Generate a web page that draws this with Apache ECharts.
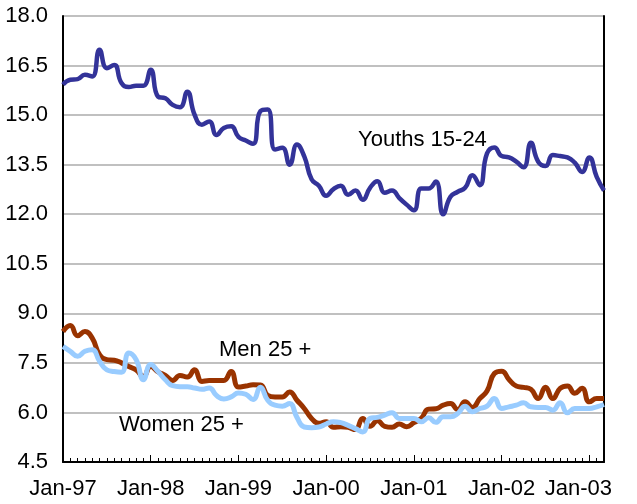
<!DOCTYPE html>
<html>
<head>
<meta charset="utf-8">
<script src="https://cdn.jsdelivr.net/npm/echarts@6/dist/echarts.min.js"></script>
<style>
html,body{margin:0;padding:0;background:#fff;}
#chart{width:637px;height:504px;}
</style>
</head>
<body>
<div id="chart"></div>
<script>
var categories = [
 'Jan-97','Feb-97','Mar-97','Apr-97','May-97','Jun-97','Jul-97','Aug-97','Sep-97','Oct-97','Nov-97','Dec-97',
 'Jan-98','Feb-98','Mar-98','Apr-98','May-98','Jun-98','Jul-98','Aug-98','Sep-98','Oct-98','Nov-98','Dec-98',
 'Jan-99','Feb-99','Mar-99','Apr-99','May-99','Jun-99','Jul-99','Aug-99','Sep-99','Oct-99','Nov-99','Dec-99',
 'Jan-00','Feb-00','Mar-00','Apr-00','May-00','Jun-00','Jul-00','Aug-00','Sep-00','Oct-00','Nov-00','Dec-00',
 'Jan-01','Feb-01','Mar-01','Apr-01','May-01','Jun-01','Jul-01','Aug-01','Sep-01','Oct-01','Nov-01','Dec-01',
 'Jan-02','Feb-02','Mar-02','Apr-02','May-02','Jun-02','Jul-02','Aug-02','Sep-02','Oct-02','Nov-02','Dec-02',
 'Jan-03','Feb-03','Mar-03'
];
var tickLabels = ['Jan-97','Jan-98','Jan-99','Jan-00','Jan-01','Jan-02','Jan-03'];

var youths = [
 15.92,16.07,16.09,16.22,16.17,16.98,16.42,16.52,15.97,15.85,15.89,15.89,
 16.37,15.56,15.51,15.31,15.24,15.71,15.01,14.71,14.81,14.40,14.61,14.66,
 14.34,14.23,14.13,15.12,15.17,13.96,14.01,13.50,14.11,13.75,13.06,12.86,
 12.56,12.76,12.86,12.59,12.72,12.44,12.80,13.00,12.65,12.72,12.49,12.29,
 12.12,12.78,12.78,12.99,12.00,12.53,12.68,12.80,13.18,12.88,13.84,14.02,
 13.76,13.72,13.59,13.42,14.16,13.59,13.46,13.79,13.76,13.72,13.56,13.28,
 13.72,13.13,12.72
];
var men = [
 8.45,8.63,8.32,8.45,8.25,7.75,7.60,7.58,7.50,7.39,7.29,7.09,
 7.39,7.23,7.12,6.97,7.12,7.07,7.29,6.94,6.97,6.97,6.97,7.24,
 6.77,6.80,6.84,6.83,6.52,6.47,6.47,6.62,6.37,6.12,5.82,5.67,
 5.72,5.55,5.57,5.55,5.48,5.82,5.58,5.75,5.58,5.55,5.65,5.57,
 5.69,5.82,6.10,6.11,6.22,6.27,6.09,6.32,6.15,6.42,6.65,7.18,
 7.25,7.00,6.80,6.76,6.70,6.42,6.76,6.42,6.73,6.80,6.58,6.73,
 6.32,6.42,6.42
];
var women = [
 8.00,7.85,7.70,7.85,7.90,7.55,7.29,7.24,7.22,7.80,7.60,6.99,
 7.45,7.24,6.99,6.81,6.78,6.78,6.74,6.70,6.74,6.51,6.41,6.47,
 6.59,6.55,6.39,6.76,6.37,6.22,6.19,6.27,5.85,5.56,5.54,5.56,
 5.65,5.72,5.69,5.61,5.51,5.41,5.82,5.85,5.92,5.99,5.82,5.82,
 5.82,5.72,5.84,5.70,5.87,5.87,5.97,6.19,6.02,6.12,6.19,6.42,
 6.12,6.17,6.22,6.29,6.17,6.15,6.15,6.07,6.29,5.99,6.12,6.12,
 6.12,6.17,6.24
];

var FONT = 'Liberation Sans, Arial, sans-serif';
var FS = 22;
var chart = echarts.init(document.getElementById('chart'), null, {renderer: 'canvas'});
function isTick(v){ return tickLabels.indexOf(v) >= 0; }
chart.setOption({
  animation: false,
  backgroundColor: '#ffffff',
  grid: {left: 63, right: 33, top: 16, bottom: 42, containLabel: false},
  xAxis: [{
    type: 'category',
    data: categories,
    boundaryGap: false,
    position: 'bottom',
    axisLine: {show: true, lineStyle: {color: '#000', width: 2}},
    axisTick: {show: true, inside: true, length: 4, interval: 0, lineStyle: {color: '#000', width: 1}},
    axisLabel: {
      show: true,
      interval: function(i, v){ return isTick(v); },
      margin: 16,
      color: '#000',
      fontFamily: FONT,
      fontSize: FS,
      formatter: function(v){ return v === 'Jan-03' ? '{last|' + v + '}' : v; },
      rich: {last: {fontFamily: FONT, fontSize: FS, color: '#000', padding: [0, 22, 0, 0]}}
    },
    splitLine: {show: false}
  }, {
    type: 'category',
    data: categories,
    boundaryGap: false,
    position: 'bottom',
    axisLine: {show: false},
    axisTick: {show: true, inside: true, length: 7, interval: function(i, v){ return isTick(v); }, lineStyle: {color: '#000', width: 1}},
    axisLabel: {show: false},
    splitLine: {show: false}
  }],
  yAxis: [{
    type: 'value',
    min: 4.5,
    max: 18,
    interval: 1.5,
    axisLine: {show: true, lineStyle: {color: '#000', width: 2}},
    axisTick: {show: false},
    axisLabel: {
      color: '#000', fontFamily: FONT, fontSize: FS, margin: 15,
      formatter: function(v){ return v.toFixed(1); }
    },
    splitLine: {show: true, lineStyle: {color: '#c0c0c0', width: 2}}
  }, {
    type: 'value',
    min: 4.5,
    max: 18,
    interval: 1.5,
    position: 'right',
    axisLine: {show: true, lineStyle: {color: '#000', width: 2}},
    axisTick: {show: false},
    axisLabel: {show: false},
    splitLine: {show: false}
  }],
  series: [{
    name: 'Youths 15-24', type: 'line', data: youths, smooth: 0.5,
    showSymbol: false, symbol: 'none',
    lineStyle: {color: '#333399', width: 4.5}
  }, {
    name: 'Men 25 +', type: 'line', data: men, smooth: 0.5,
    showSymbol: false, symbol: 'none',
    lineStyle: {color: '#993300', width: 5}
  }, {
    name: 'Women 25 +', type: 'line', data: women, smooth: 0.5,
    showSymbol: false, symbol: 'none',
    lineStyle: {color: '#99ccff', width: 5}
  }],
  graphic: [
    {type: 'text', left: 358, top: 129, style: {text: 'Youths 15-24', font: FS + 'px ' + FONT, fill: '#000'}},
    {type: 'text', left: 219, top: 339, style: {text: 'Men 25 +', font: FS + 'px ' + FONT, fill: '#000'}},
    {type: 'text', left: 119, top: 414, style: {text: 'Women 25 +', font: FS + 'px ' + FONT, fill: '#000'}}
  ]
});
</script>
</body>
</html>
